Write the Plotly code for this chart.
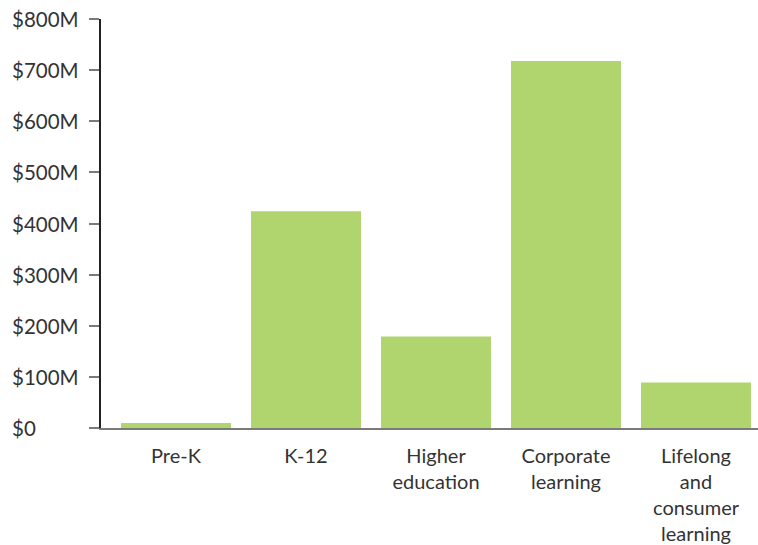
import plotly.graph_objects as go

# Spending by education segment (USD millions)
categories = ["Pre-K", "K-12", "Higher<br>education", "Corporate<br>learning",
              "Lifelong<br>and<br>consumer<br>learning"]
values = [10, 424, 179, 718, 89]
tick_vals = [0, 100, 200, 300, 400, 500, 600, 700, 800]
tick_text = ["$0", "$100M", "$200M", "$300M", "$400M", "$500M", "$600M", "$700M", "$800M"]

fig = go.Figure(go.Bar(
    x=list(range(len(categories))),
    y=values,
    marker=dict(color="#b0d56e", line=dict(width=0)),
    hoverinfo="skip",
))

font_family = "Lato, 'Open Sans', sans-serif"
plot_left = 101
plot_width = 758 - plot_left

# Left-aligned value labels for the y ticks, placed on the y scale
for v, t in zip(tick_vals, tick_text):
    fig.add_annotation(
        x=(10 - plot_left) / plot_width, xref="paper", xanchor="left",
        y=v, yref="y", yanchor="middle",
        text=t, showarrow=False,
        font=dict(family=font_family, size=20.5, color="#333333"),
    )

fig.update_layout(
    width=758, height=545,
    margin=dict(l=plot_left, r=0, t=19, b=115),
    paper_bgcolor="white", plot_bgcolor="white",
    bargap=0.154,
    showlegend=False,
    font=dict(family=font_family, size=20, color="#333333"),
    xaxis=dict(
        range=[-0.577, 4.477],
        tickmode="array",
        tickvals=list(range(len(categories))),
        ticktext=categories,
        showline=True, linecolor="#7a7a7a", linewidth=2,
        ticks="", showgrid=False, zeroline=False,
        tickfont=dict(size=20, color="#333333"),
        ticklabelstandoff=9,
        fixedrange=True,
    ),
    yaxis=dict(
        range=[0, 800],
        tickmode="array",
        tickvals=tick_vals,
        showticklabels=False,
        showline=True, linecolor="#222222", linewidth=1.5,
        ticks="outside", ticklen=10, tickcolor="#7a7a7a", tickwidth=1.5,
        showgrid=False, zeroline=False,
        fixedrange=True,
    ),
)

fig.write_html("out.html")
